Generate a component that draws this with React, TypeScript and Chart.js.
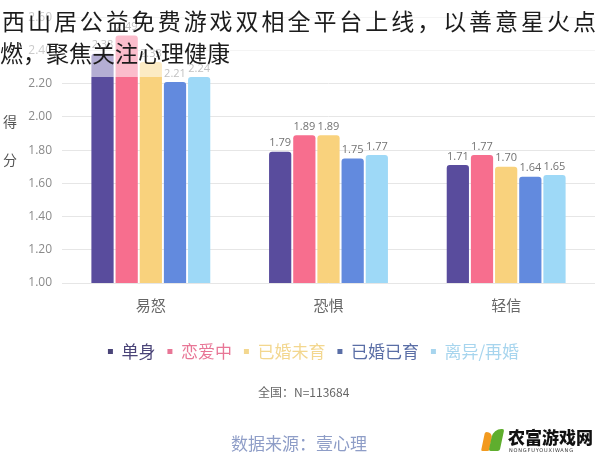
import React, { useEffect, useRef } from "react";
import { Chart, registerables } from "chart.js";

Chart.register(...registerables);

const categories = ["易怒", "恐惧", "轻信"];
const seriesNames = ["单身", "恋爱中", "已婚未育", "已婚已育", "离异/再婚"];
const singleValues = [2.38, 1.79, 1.71];
const datingValues = [2.49, 1.89, 1.77];
const marriedNoKidsValues = [2.33, 1.89, 1.7];
const marriedKidsValues = [2.21, 1.75, 1.64];
const divorcedValues = [2.24, 1.77, 1.65];
const yMin = 1.0;
const yMax = 2.6;
const yStep = 0.2;

const barColors = ["#594c9d", "#f76e8e", "#f9d27d", "#628ade", "#9ed9f7"];
const legendTextColors = ["#4a4478", "#e87696", "#f3d78f", "#5a6ea6", "#a7d5ee"];

const titleLine1 = "西山居公益免费游戏双相全平台上线，以善意星火点";
const titleLine2 = "燃，聚焦关注心理健康";
const yTitleChars = ["得", "分"];
const noteText = "全国：N=113684";
const sourceText = "数据来源：壹心理";
const watermarkText = "农富游戏网";
const watermarkSub = "NONGFUYOUXIWANG";

const CJK = "'Noto Sans CJK SC', 'Noto Sans', sans-serif";
const NUM = "'Open Sans', 'Noto Sans CJK SC', sans-serif";

const valueLabels = {
  id: "valueLabels",
  afterDatasetsDraw(chart: any) {
    const ctx = chart.ctx;
    ctx.save();
    ctx.font = `11px ${NUM}`;
    ctx.fillStyle = "#737373";
    ctx.textAlign = "center";
    ctx.textBaseline = "bottom";
    chart.data.datasets.forEach((ds: any, i: number) => {
      const meta = chart.getDatasetMeta(i);
      meta.data.forEach((el: any, j: number) => {
        const v = ds.data[j] as number;
        ctx.fillText(v.toFixed(2), el.x, el.y - 3);
      });
    });
    ctx.restore();
  },
};

const legendShift = {
  id: "legendShift",
  afterLayout(chart: any) {
    if (chart.legend) {
      chart.legend.left += 16;
      chart.legend.right += 16;
    }
  },
};

export default function App() {
  const canvasRef = useRef<HTMLCanvasElement | null>(null);

  useEffect(() => {
    if (!canvasRef.current) return;
    const allSeries = [
      singleValues,
      datingValues,
      marriedNoKidsValues,
      marriedKidsValues,
      divorcedValues,
    ];
    const chart = new Chart(canvasRef.current, {
      type: "bar",
      data: {
        labels: categories,
        datasets: allSeries.map((vals, i) => ({
          label: seriesNames[i],
          data: vals,
          backgroundColor: barColors[i],
          borderRadius: 3,
          borderSkipped: "start" as const,
          categoryPercentage: 0.68,
          barPercentage: 0.92,
        })),
      },
      options: {
        responsive: false,
        animation: false,
        devicePixelRatio: 1,
        layout: { padding: { top: 4, right: 5, left: 0, bottom: 84 } },
        plugins: {
          tooltip: { enabled: false },
          legend: {
            display: true,
            position: "bottom",
            labels: {
              boxWidth: 5,
              boxHeight: 5,
              padding: 12,
              font: { size: 17, family: CJK },
              generateLabels: (c: any) => {
                const items = (Chart as any).defaults.plugins.legend.labels.generateLabels(c);
                items.forEach((it: any, i: number) => {
                  it.fontColor = legendTextColors[i];
                  it.fillStyle = legendTextColors[i];
                  it.strokeStyle = legendTextColors[i];
                  it.lineWidth = 0;
                });
                return items;
              },
            },
          },
        },
        scales: {
          x: {
            grid: { display: false },
            border: { display: false },
            ticks: {
              color: "#666",
              font: { size: 15, family: CJK },
              padding: 5,
            },
            afterFit: (scale: any) => {
              scale.height += 12;
            },
          },
          y: {
            min: yMin,
            max: yMax,
            grid: { color: "#e6e6e6", drawTicks: false },
            border: { display: false },
            ticks: {
              stepSize: yStep,
              color: "#8a8a8a",
              padding: 10,
              font: { size: 12, family: NUM },
              callback: (v: any) => Number(v).toFixed(2),
            },
            afterFit: (scale: any) => {
              scale.width = 62;
            },
          },
        },
      },
      plugins: [valueLabels, legendShift],
    });
    return () => chart.destroy();
  }, []);

  return (
    <div
      style={{
        position: "fixed",
        left: 0,
        top: 0,
        width: 600,
        height: 454,
        background: "#fff",
        overflow: "hidden",
      }}
    >
      <canvas ref={canvasRef} width={600} height={454} style={{ position: "absolute", left: 0, top: 0 }} />
      {yTitleChars.map((ch, i) => (
        <div
          key={ch}
          style={{
            position: "absolute",
            left: 3,
            top: 114 + i * 38,
            fontFamily: CJK,
            fontSize: 14,
            lineHeight: "14px",
            color: "#555",
          }}
        >
          {ch}
        </div>
      ))}
      <div
        style={{
          position: "absolute",
          left: 0,
          top: 0,
          width: 600,
          height: 77,
          background: "rgba(255,255,255,0.55)",
        }}
      />
      <div
        style={{
          position: "absolute",
          left: 2,
          top: 9,
          fontFamily: CJK,
          fontSize: 23,
          lineHeight: "23px",
          letterSpacing: "2.95px",
          whiteSpace: "nowrap",
          color: "#1c1c1c",
        }}
      >
        {titleLine1}
      </div>
      <div
        style={{
          position: "absolute",
          left: 0,
          top: 41,
          fontFamily: CJK,
          fontSize: 23,
          lineHeight: "23px",
          whiteSpace: "nowrap",
          color: "#1c1c1c",
        }}
      >
        {titleLine2}
      </div>
      <div
        style={{
          position: "absolute",
          left: 258,
          top: 385,
          fontFamily: CJK,
          fontSize: 12,
          lineHeight: "14px",
          color: "#666",
          whiteSpace: "nowrap",
        }}
      >
        {noteText}
      </div>
      <div
        style={{
          position: "absolute",
          left: 231,
          top: 434,
          fontFamily: CJK,
          fontSize: 17,
          lineHeight: "18px",
          color: "#8e9dc7",
          whiteSpace: "nowrap",
        }}
      >
        {sourceText}
      </div>
      <div style={{ position: "absolute", left: 481, top: 428, width: 24, height: 24 }}>
        <div
          style={{
            position: "absolute",
            left: 2,
            top: 4,
            width: 8,
            height: 19,
            background: "#f29a1f",
            borderRadius: "2px 8px 2px 2px",
            transform: "skewX(-12deg)",
          }}
        />
        <div
          style={{
            position: "absolute",
            left: 10,
            top: 1,
            width: 11,
            height: 22,
            background: "#5fae2e",
            borderRadius: "8px 2px 2px 2px",
            transform: "skewX(-12deg)",
          }}
        />
      </div>
      <div
        style={{
          position: "absolute",
          left: 508,
          top: 428,
          fontFamily: "'Noto Sans CJK SC', serif",
          fontWeight: 900,
          fontSize: 17,
          lineHeight: "18px",
          color: "#111",
          whiteSpace: "nowrap",
        }}
      >
        {watermarkText}
      </div>
      <div
        style={{
          position: "absolute",
          left: 509,
          top: 447,
          fontFamily: "'DejaVu Sans', sans-serif",
          fontSize: 5,
          lineHeight: "6px",
          letterSpacing: "0.8px",
          color: "#333",
          whiteSpace: "nowrap",
        }}
      >
        {watermarkSub}
      </div>
    </div>
  );
}
